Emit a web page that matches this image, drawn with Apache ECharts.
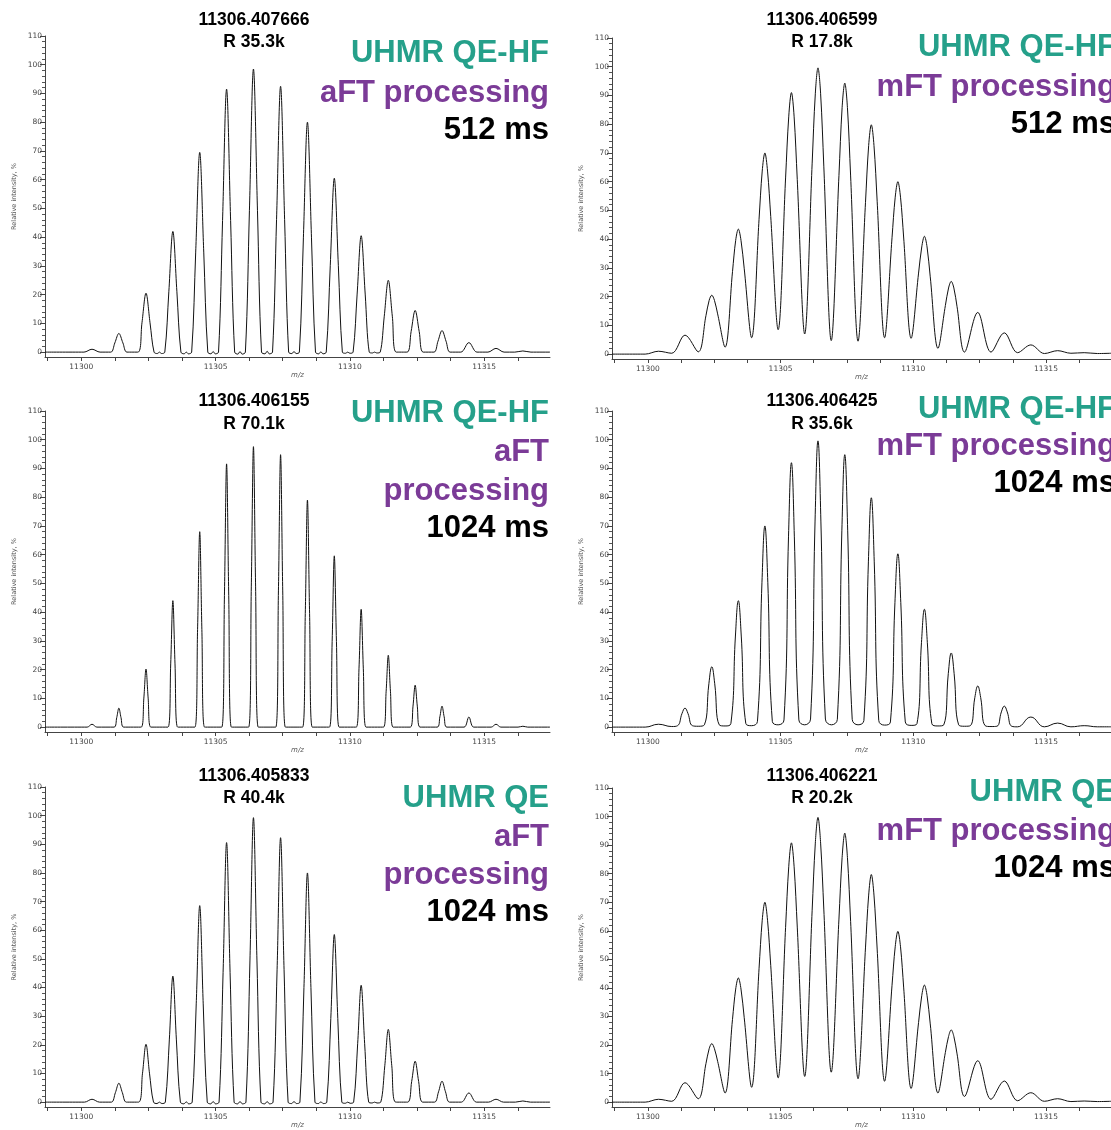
<!DOCTYPE html>
<html>
<head>
<meta charset="utf-8">
<script src="https://cdn.jsdelivr.net/npm/echarts@6/dist/echarts.min.js"></script>
<style>html,body{margin:0;padding:0;background:#fff;}#c{width:1111px;height:1130px;}</style>
</head>
<body>
<div id="c"></div>
<script>
// ---------- DATA ----------
const xTickLabels = [11300, 11305, 11310, 11315];
const xTicks = [11298.75, 11300, 11301.25, 11302.5, 11303.75, 11305, 11306.25, 11307.5, 11308.75, 11310, 11311.25, 11312.5, 11313.75, 11315, 11316.25];
const yTickLabels = [0, 10, 20, 30, 40, 50, 60, 70, 80, 90, 100, 110];
const yMinorTicks = [2,4,6,8,12,14,16,18,22,24,26,28,32,34,36,38,42,44,46,48,52,54,56,58,62,64,66,68,72,74,76,78,82,84,86,88,92,94,96,98,102,104,106,108];

const centroidMasses = ['11306.407666', '11306.406155', '11306.405833', '11306.406599', '11306.406425', '11306.406221'];
const resolutions = ['R 35.3k', 'R 70.1k', 'R 40.4k', 'R 17.8k', 'R 35.6k', 'R 20.2k'];
const instruments = ['UHMR QE-HF', 'UHMR QE-HF', 'UHMR QE', 'UHMR QE-HF', 'UHMR QE-HF', 'UHMR QE'];
const processing = [['aFT processing'], ['aFT', 'processing'], ['aFT', 'processing'], ['mFT processing'], ['mFT processing'], ['mFT processing']];
const transients = ['512 ms', '1024 ms', '1024 ms', '512 ms', '1024 ms', '1024 ms'];

// UHMR QE-HF, aFT, 512 ms
const profileAft512HF = [
[11298.65,0],
[11300.10,0],[11300.40,1.0],[11300.70,0],
[11301.10,0],[11301.25,3.2],[11301.40,6.5],[11301.55,3.2],[11301.70,0],
[11302.11,0],[11302.26,10.2],[11302.41,20.5],[11302.56,10.2],[11302.71,0],
[11302.83,-0.5],[11302.91,0],[11302.99,-0.5],
[11303.11,0],[11303.26,21.0],[11303.41,42.0],[11303.56,21.0],[11303.71,0],
[11303.83,-0.6],[11303.91,0],[11303.99,-0.6],
[11304.11,0],[11304.26,34.8],[11304.41,69.5],[11304.56,34.8],[11304.71,0],
[11304.83,-0.6],[11304.91,0.2],[11304.99,-0.6],
[11305.11,0],[11305.26,45.8],[11305.41,91.5],[11305.56,45.8],[11305.71,0],
[11305.83,-0.7],[11305.91,0.2],[11305.99,-0.7],
[11306.11,0],[11306.26,49.2],[11306.41,98.5],[11306.56,49.2],[11306.71,0],
[11306.84,-0.6],[11306.92,0.3],[11307.00,-0.6],
[11307.12,0],[11307.27,46.2],[11307.42,92.5],[11307.57,46.2],[11307.72,0],
[11307.84,-0.5],[11307.92,0.2],[11308.00,-0.5],
[11308.12,0],[11308.27,40.0],[11308.42,80.0],[11308.57,40.0],[11308.72,0],
[11308.84,-0.6],[11308.92,0.1],[11309.00,-0.6],
[11309.12,0],[11309.27,30.2],[11309.42,60.5],[11309.57,30.2],[11309.72,0],
[11309.84,-0.4],[11309.92,0],[11310.00,-0.4],
[11310.12,0],[11310.27,20.2],[11310.42,40.5],[11310.57,20.2],[11310.72,0],
[11310.84,-0.3],[11310.92,0],[11311.00,-0.3],
[11311.13,0],[11311.28,12.5],[11311.43,25.0],[11311.58,12.5],[11311.73,0],
[11312.13,0],[11312.28,7.2],[11312.43,14.5],[11312.58,7.2],[11312.73,0],
[11313.13,0],[11313.28,3.8],[11313.43,7.5],[11313.58,3.8],[11313.73,0],
[11314.13,0],[11314.43,3.3],[11314.73,0],
[11315.14,0],[11315.44,1.3],[11315.74,0],
[11316.14,0],[11316.44,0.4],[11316.74,0],
[11317.45,0]
];

// UHMR QE-HF, aFT, 1024 ms
const profileAft1024HF = [
[11298.65,0],
[11300.22,0],[11300.40,1.0],[11300.58,0],
[11301.22,0],[11301.32,3.3],[11301.40,6.6],[11301.48,3.3],[11301.58,0],
[11302.23,0],[11302.33,10.1],[11302.41,20.2],[11302.49,10.1],[11302.59,0],
[11303.23,0],[11303.33,22.0],[11303.41,44.0],[11303.49,22.0],[11303.59,0],
[11304.23,0],[11304.33,34.0],[11304.41,68.0],[11304.49,34.0],[11304.59,0],
[11305.23,0],[11305.33,45.8],[11305.41,91.6],[11305.49,45.8],[11305.59,0],
[11306.23,0],[11306.33,48.8],[11306.41,97.6],[11306.49,48.8],[11306.59,0],
[11307.24,0],[11307.34,47.4],[11307.42,94.8],[11307.50,47.4],[11307.60,0],
[11308.24,0],[11308.34,39.5],[11308.42,79.0],[11308.50,39.5],[11308.60,0],
[11309.24,0],[11309.34,29.8],[11309.42,59.6],[11309.50,29.8],[11309.60,0],
[11310.24,0],[11310.34,20.5],[11310.42,41.0],[11310.50,20.5],[11310.60,0],
[11311.25,0],[11311.35,12.5],[11311.43,25.0],[11311.51,12.5],[11311.61,0],
[11312.25,0],[11312.35,7.3],[11312.43,14.6],[11312.51,7.3],[11312.61,0],
[11313.25,0],[11313.35,3.6],[11313.43,7.3],[11313.51,3.6],[11313.61,0],
[11314.25,0],[11314.43,3.5],[11314.61,0],
[11315.26,0],[11315.44,1.0],[11315.62,0],
[11316.26,0],[11316.44,0.3],[11316.62,0],
[11317.45,0]
];

// UHMR QE, aFT, 1024 ms
const profileAft1024QE = [
[11298.65,0],
[11300.12,0],[11300.40,1.0],[11300.68,0],
[11301.12,0],[11301.27,3.3],[11301.40,6.6],[11301.53,3.3],[11301.68,0],
[11302.13,0],[11302.28,10.1],[11302.41,20.2],[11302.54,10.1],[11302.69,0],
[11302.82,-0.5],[11302.91,0],[11303.00,-0.5],
[11303.13,0],[11303.28,22.0],[11303.41,44.0],[11303.54,22.0],[11303.69,0],
[11303.82,-0.6],[11303.91,0.1],[11304.00,-0.6],
[11304.13,0],[11304.28,34.3],[11304.41,68.6],[11304.54,34.3],[11304.69,0],
[11304.82,-0.6],[11304.91,0.2],[11305.00,-0.6],
[11305.13,0],[11305.28,45.3],[11305.41,90.6],[11305.54,45.3],[11305.69,0],
[11305.82,-0.6],[11305.91,0.2],[11306.00,-0.6],
[11306.13,0],[11306.28,49.6],[11306.41,99.3],[11306.54,49.6],[11306.69,0],
[11306.83,-0.6],[11306.92,0.2],[11307.01,-0.6],
[11307.14,0],[11307.29,46.2],[11307.42,92.3],[11307.55,46.2],[11307.70,0],
[11307.83,-0.5],[11307.92,0.2],[11308.01,-0.5],
[11308.14,0],[11308.29,40.0],[11308.42,80.0],[11308.55,40.0],[11308.70,0],
[11308.83,-0.5],[11308.92,0.1],[11309.01,-0.5],
[11309.14,0],[11309.29,29.2],[11309.42,58.5],[11309.55,29.2],[11309.70,0],
[11309.83,-0.4],[11309.92,0],[11310.01,-0.4],
[11310.14,0],[11310.29,20.4],[11310.42,40.8],[11310.55,20.4],[11310.70,0],
[11310.83,-0.3],[11310.92,0],[11311.01,-0.3],
[11311.15,0],[11311.30,12.7],[11311.43,25.4],[11311.56,12.7],[11311.71,0],
[11312.15,0],[11312.30,7.2],[11312.43,14.3],[11312.56,7.2],[11312.71,0],
[11313.15,0],[11313.30,3.6],[11313.43,7.3],[11313.56,3.6],[11313.71,0],
[11314.15,0],[11314.43,3.2],[11314.71,0],
[11315.16,0],[11315.44,1.0],[11315.72,0],
[11316.16,0],[11316.44,0.4],[11316.72,0],
[11317.45,0]
];

// UHMR QE-HF, mFT, 512 ms
const profileMft512HF = [
[11298.65,0],[11299.90,0],
[11300.40,1.0],[11300.90,0.3],
[11301.40,6.6],[11301.90,0.8],
[11302.19,13.4],[11302.31,18.7],[11302.41,20.5],[11302.51,18.7],[11302.63,14.0],[11302.91,2.4],
[11303.19,28.7],[11303.31,39.6],[11303.41,43.5],[11303.51,39.6],[11303.63,29.9],[11303.91,5.7],
[11304.19,46.9],[11304.31,63.7],[11304.41,70.0],[11304.51,63.7],[11304.63,47.9],[11304.91,8.5],
[11305.19,61.3],[11305.31,82.8],[11305.41,91.0],[11305.51,82.8],[11305.63,60.7],[11305.91,7.0],
[11306.19,66.2],[11306.31,90.6],[11306.41,99.6],[11306.51,90.6],[11306.63,65.4],[11306.91,4.7],
[11307.20,62.1],[11307.32,85.8],[11307.42,94.3],[11307.52,85.8],[11307.64,62.0],[11307.92,4.5],
[11308.20,52.7],[11308.32,72.6],[11308.42,79.8],[11308.52,72.6],[11308.64,53.2],[11308.92,5.7],
[11309.20,40.5],[11309.32,54.6],[11309.42,60.0],[11309.52,54.6],[11309.64,40.4],[11309.92,5.5],
[11310.20,28.2],[11310.32,37.3],[11310.42,41.0],[11310.52,37.3],[11310.64,26.9],[11310.93,2.0],
[11311.21,16.9],[11311.33,23.0],[11311.43,25.3],[11311.53,23.0],[11311.65,16.5],[11311.93,0.7],
[11312.43,14.5],[11312.93,0.7],
[11313.43,7.4],[11313.93,0.5],
[11314.43,3.2],[11314.94,0.2],
[11315.44,1.2],[11315.94,0.3],
[11316.44,0.5],[11316.94,0.2],
[11317.45,0.3]
];

// UHMR QE-HF, mFT, 1024 ms
const profileMft1024HF = [
[11298.65,0],[11299.90,0],
[11300.40,1.0],[11300.90,0.2],
[11301.12,0.5],[11301.29,4.8],[11301.40,6.6],[11301.51,4.8],[11301.68,0.5],[11301.90,0.3],
[11302.13,0.8],[11302.30,15.1],[11302.41,21.0],[11302.52,15.1],[11302.69,0.8],[11302.91,0.4],
[11303.13,1.3],[11303.30,31.7],[11303.41,44.0],[11303.52,31.7],[11303.69,1.3],[11303.91,0.5],
[11304.13,2.0],[11304.30,50.4],[11304.41,70.0],[11304.52,50.4],[11304.69,2.0],[11304.91,0.8],
[11305.13,2.5],[11305.30,66.2],[11305.41,92.0],[11305.52,66.2],[11305.69,2.5],[11305.91,0.8],
[11306.13,2.8],[11306.30,71.7],[11306.41,99.6],[11306.52,71.7],[11306.69,2.8],[11306.92,0.8],
[11307.14,2.7],[11307.31,68.3],[11307.42,94.8],[11307.53,68.3],[11307.70,2.7],[11307.92,0.8],
[11308.14,2.3],[11308.31,57.5],[11308.42,79.8],[11308.53,57.5],[11308.70,2.3],[11308.92,0.7],
[11309.14,1.8],[11309.31,43.4],[11309.42,60.3],[11309.53,43.4],[11309.70,1.8],[11309.92,0.6],
[11310.14,1.2],[11310.31,29.5],[11310.42,41.0],[11310.53,29.5],[11310.70,1.2],[11310.93,0.4],
[11311.15,0.8],[11311.32,18.6],[11311.43,25.8],[11311.54,18.6],[11311.71,0.8],[11311.93,0.3],
[11312.15,0.5],[11312.32,10.3],[11312.43,14.3],[11312.54,10.3],[11312.71,0.5],[11312.93,0.2],
[11313.15,0.3],[11313.32,5.3],[11313.43,7.3],[11313.54,5.3],[11313.71,0.3],[11313.93,0.1],
[11314.43,3.5],[11314.94,0.1],
[11315.44,1.4],[11315.94,0.1],
[11316.44,0.5],[11316.94,0.1],
[11317.45,0.1]
];

// UHMR QE, mFT, 1024 ms
const profileMft1024QE = [
[11298.65,0],[11299.90,0],
[11300.40,1.0],[11300.90,0.3],
[11301.40,6.8],[11301.90,1.2],
[11302.19,13.5],[11302.31,18.7],[11302.41,20.5],[11302.51,18.7],[11302.63,14.3],[11302.91,3.2],
[11303.19,29.0],[11303.31,39.6],[11303.41,43.5],[11303.51,39.6],[11303.63,29.7],[11303.91,5.2],
[11304.19,46.7],[11304.31,63.7],[11304.41,70.0],[11304.51,63.7],[11304.63,47.9],[11304.91,8.5],
[11305.19,61.2],[11305.31,82.6],[11305.41,90.8],[11305.51,82.6],[11305.63,61.3],[11305.91,9.0],
[11306.19,67.0],[11306.31,90.7],[11306.41,99.7],[11306.51,90.7],[11306.63,67.6],[11306.91,10.5],
[11307.20,64.1],[11307.32,85.7],[11307.42,94.2],[11307.52,85.7],[11307.64,63.3],[11307.92,8.2],
[11308.20,54.0],[11308.32,72.5],[11308.42,79.7],[11308.52,72.5],[11308.64,53.6],[11308.92,7.3],
[11309.20,40.9],[11309.32,54.4],[11309.42,59.8],[11309.52,54.4],[11309.64,40.0],[11309.92,4.8],
[11310.20,27.9],[11310.32,37.3],[11310.42,41.0],[11310.52,37.3],[11310.64,27.4],[11310.93,3.2],
[11311.21,17.4],[11311.33,23.0],[11311.43,25.3],[11311.53,23.0],[11311.65,16.9],[11311.93,2.0],
[11312.43,14.5],[11312.93,1.0],
[11313.43,7.4],[11313.93,0.5],
[11314.43,3.3],[11314.94,0.3],
[11315.44,1.2],[11315.94,0.2],
[11316.44,0.4],[11316.94,0.2],
[11317.45,0.3]
];

const profiles = [profileAft512HF, profileAft1024HF, profileAft1024QE, profileMft512HF, profileMft1024HF, profileMft1024QE];

// ---------- LAYOUT ----------
const TEAL = '#25a08a', PURPLE = '#7b3b97', BLACK = '#000';
const FONT = '"Liberation Sans", Arial, Helvetica, sans-serif';
const colLeft = [45, 612];
const rowTop = [[36, 38], [411, 411], [787, 788]];
const gridW = 505, gridH = 321;
const titleY = [[20, 42], [401, 424], [776, 798]];
const smoothness = [0.35, 0.35, 0.35, 0.35, 0.45, 0.35];
const bigY = [
  [53, 93, 130],          // panel 0
  [413, 452, 491, 528],   // panel 1
  [798, 837, 875, 912],   // panel 2
  [47, 87, 124],          // panel 3
  [409, 446, 483],        // panel 4
  [792, 831, 868]         // panel 5
];

const grids = [], xAxes = [], yAxes = [], series = [], graphics = [];
for (let i = 0; i < 6; i++) {
  const col = i < 3 ? 0 : 1, row = i % 3;
  const left = colLeft[col], top = rowTop[row][col];
  grids.push({ left: left, top: top, width: gridW, height: gridH, containLabel: false });
  xAxes.push({
    gridIndex: i, type: 'value', min: 11298.65, max: 11317.45,
    name: 'm/z', nameLocation: 'middle', nameGap: 15,
    nameTextStyle: { fontStyle: 'italic', fontSize: 7, color: '#555', fontFamily: 'DejaVu Sans' },
    axisLine: { show: true, onZero: false, lineStyle: { color: '#444', width: 1 } },
    axisTick: { show: true, customValues: xTicks, length: 4, lineStyle: { color: '#444' } },
    axisLabel: { customValues: xTickLabels, formatter: v => String(v), fontSize: 7.5, color: '#444', margin: 6, fontFamily: 'DejaVu Sans' },
    splitLine: { show: false }
  });
  yAxes.push({
    gridIndex: i, type: 'value', min: -1.7, max: 110, position: 'left',
    name: 'Relative intensity, %', nameLocation: 'middle', nameGap: 27, nameRotate: 90,
    nameTextStyle: { fontSize: 6.5, color: '#555', fontFamily: 'DejaVu Sans' },
    axisLine: { show: true, onZero: false, lineStyle: { color: '#444', width: 1 } },
    axisTick: { show: true, customValues: yTickLabels, length: 5, lineStyle: { color: '#444' } },
    axisLabel: { customValues: yTickLabels, formatter: v => String(v), fontSize: 7.5, color: '#444', margin: 3, fontFamily: 'DejaVu Sans' },
    splitLine: { show: false }
  });
  yAxes.push({
    gridIndex: i, type: 'value', min: -1.7, max: 110, position: 'left', offset: 0,
    axisLine: { show: false },
    axisTick: { show: true, customValues: yMinorTicks, length: 3, lineStyle: { color: '#555' } },
    axisLabel: { show: false }, splitLine: { show: false }
  });
  series.push({
    type: 'line', xAxisIndex: i, yAxisIndex: 2 * i, data: profiles[i],
    showSymbol: false, smooth: smoothness[i],
    lineStyle: { color: '#111', width: 1 }, silent: true, animation: false
  });
  const cx = col === 0 ? 254 : 822;
  graphics.push({ type: 'text', x: cx, y: titleY[row][0], style: { text: centroidMasses[i], fill: '#000', font: 'bold 17.5px ' + FONT, textAlign: 'center', textVerticalAlign: 'middle' } });
  graphics.push({ type: 'text', x: cx, y: titleY[row][1], style: { text: resolutions[i], fill: '#000', font: 'bold 17.5px ' + FONT, textAlign: 'center', textVerticalAlign: 'middle' } });
  const rx = left + gridW - 1;
  const lines = [[instruments[i], TEAL]].concat(processing[i].map(t => [t, PURPLE])).concat([[transients[i], BLACK]]);
  lines.forEach((ln, j) => {
    graphics.push({ type: 'text', x: rx, y: bigY[i][j], style: { text: ln[0], fill: ln[1], font: 'bold 31px ' + FONT, textAlign: 'right', textVerticalAlign: 'middle' } });
  });
}

const chart = echarts.init(document.getElementById('c'), null, { renderer: 'canvas' });
chart.setOption({
  backgroundColor: '#fff',
  animation: false,
  grid: grids, xAxis: xAxes, yAxis: yAxes, series: series, graphic: graphics
});
</script>
</body>
</html>
